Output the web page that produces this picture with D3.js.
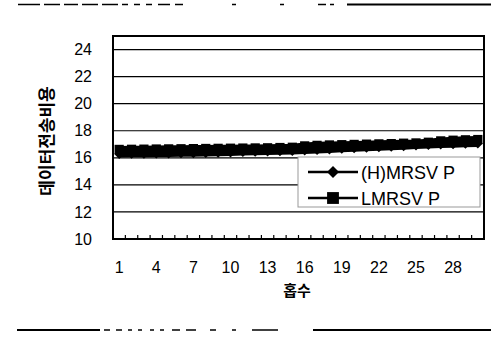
<!DOCTYPE html>
<html>
<head>
<meta charset="utf-8">
<script src="https://cdn.jsdelivr.net/npm/d3@7"></script>
<style>
  html, body { margin: 0; padding: 0; background: #fff; }
  svg { display: block; }
</style>
</head>
<body>
<svg id="chart" width="491" height="342"></svg>
<script>
// Hop counts 1..30
const hops = [1,2,3,4,5,6,7,8,9,10,11,12,13,14,15,16,17,18,19,20,21,22,23,24,25,26,27,28,29,30];

// Data transmission cost per hop count
const hmrsvp = [16.28,16.29,16.30,16.31,16.32,16.33,16.34,16.36,16.38,16.40,16.42,16.44,16.46,16.48,16.50,
                16.54,16.58,16.62,16.66,16.70,16.74,16.78,16.82,16.86,16.90,16.94,16.98,17.01,17.04,17.06];
const lmrsvp = [16.62,16.63,16.64,16.65,16.66,16.67,16.68,16.69,16.70,16.71,16.72,16.73,16.74,16.76,16.78,
                16.88,16.92,16.95,16.97,16.99,17.01,17.03,17.05,17.08,17.10,17.15,17.25,17.30,17.33,17.35];

const seriesNames = ["(H)MRSV P", "LMRSV P"];
const yTicks = [10,12,14,16,18,20,22,24];
const xTickLabels = [1,4,7,10,13,16,19,22,25,28];
const xTitle = "홉수";
const yTitle = "데이터전송비용";

const svg = d3.select("#chart");
const plotL = 113, plotR = 484, plotT = 36, plotB = 239;

const x = d3.scaleBand().domain(hops).range([plotL, plotR]);
const y = d3.scaleLinear().domain([10, 25]).range([plotB, plotT]);
const cx = h => x(h) + x.bandwidth() / 2;

// Page rules above and below the figure
const rule = (y0, segs) => segs.forEach(([a, b, w]) =>
  svg.append("line").attr("x1", a).attr("x2", b).attr("y1", y0).attr("y2", y0)
     .attr("stroke", "#000").attr("stroke-width", w || 1.5));
rule(4.5, [[18,40],[44,60],[64,78],[82,98],[102,118],[122,128],[134,140],[146,152],[158,170],[175,183],[232,236],[280,284],[318,326],[330,334],[347,491,2]]);
rule(330, [[17,100,2],[104,110],[116,122],[128,132],[138,142],[150,154],[160,164],[172,180],[186,196],[210,216],[232,236],[252,278],[313,491,2]]);

// Plot background
svg.append("rect").attr("x", plotL).attr("y", plotT).attr("width", plotR - plotL).attr("height", plotB - plotT)
   .attr("fill", "#fff");

// Horizontal gridlines
svg.append("g").selectAll("line").data(yTicks.filter(t => t > 10)).join("line")
   .attr("x1", plotL).attr("x2", plotR)
   .attr("y1", d => y(d)).attr("y2", d => y(d))
   .attr("stroke", "#000").attr("stroke-width", 1.2);

// Category tick marks along the bottom edge
const xAxis = d3.axisBottom(x).tickValues(hops).tickSize(-4).tickFormat("");
const gx = svg.append("g").attr("transform", `translate(0,${plotB})`).call(xAxis);
gx.select(".domain").remove();
gx.selectAll(".tick line").attr("transform", `translate(${-x.bandwidth() / 2},0)`).attr("stroke", "#000").attr("stroke-width", 1.2);

// Y-axis labels
const yAxis = d3.axisLeft(y).tickValues(yTicks).tickSize(0).tickPadding(21);
const gy = svg.append("g").attr("transform", `translate(${plotL},0)`).call(yAxis);
gy.select(".domain").remove();
gy.selectAll("text").attr("font-family", "Liberation Sans, Arial, sans-serif")
  .attr("font-size", 16).attr("fill", "#000");

// X-axis labels
svg.append("g").selectAll("text").data(xTickLabels).join("text")
   .attr("x", d => cx(d)).attr("y", 273)
   .attr("text-anchor", "middle")
   .attr("font-family", "Liberation Sans, Arial, sans-serif")
   .attr("font-size", 16).attr("fill", "#000")
   .text(d => d);

// Marker shapes: diamond is a square turned 45 degrees
const markers = [
  { type: d3.symbolSquare, rot: 45 },
  { type: d3.symbolSquare, rot: 0 }
];

// Series lines and markers (dense markers merge into a solid band)
const line = d3.line().x((d, i) => cx(hops[i])).y(d => y(d));
const drawSeries = (vals, mk, size) => {
  const g = svg.append("g");
  g.append("path").datum(vals).attr("d", line).attr("fill", "none").attr("stroke", "#000").attr("stroke-width", 7);
  const sym = d3.symbol().type(mk.type).size(size);
  g.selectAll("path.m").data(vals).join("path").attr("class", "m")
   .attr("transform", (d, i) => `translate(${cx(hops[i])},${y(d)}) rotate(${mk.rot})`)
   .attr("d", sym).attr("fill", "#000");
};
drawSeries(hmrsvp, markers[0], 50);
drawSeries(lmrsvp, markers[1], 85);

// Plot border
svg.append("rect").attr("x", plotL).attr("y", plotT).attr("width", plotR - plotL).attr("height", plotB - plotT)
   .attr("fill", "none").attr("stroke", "#000").attr("stroke-width", 2);

// Legend
const lg = svg.append("g");
lg.append("rect").attr("x", 298).attr("y", 157).attr("width", 182).attr("height", 50)
  .attr("fill", "#fff").attr("stroke", "#999").attr("stroke-width", 1);
seriesNames.forEach((name, i) => {
  const ly = 172 + i * 26;
  lg.append("line").attr("x1", 308).attr("x2", 358).attr("y1", ly).attr("y2", ly)
    .attr("stroke", "#000").attr("stroke-width", 2.5);
  lg.append("path").attr("transform", `translate(333,${ly}) rotate(${markers[i].rot})`)
    .attr("d", d3.symbol().type(markers[i].type).size(i ? 140 : 72)()).attr("fill", "#000");
  lg.append("text").attr("x", 361).attr("y", ly + 6.5)
    .attr("font-family", "Liberation Sans, Arial, sans-serif").attr("font-size", 18)
    .attr("fill", "#000").text(name);
});

// Axis titles
svg.append("text").attr("x", 297).attr("y", 296).attr("text-anchor", "middle")
   .attr("font-family", "Noto Sans CJK KR, sans-serif").attr("font-size", 15).attr("font-weight", "bold")
   .text(xTitle);
svg.append("text").attr("transform", "translate(53,141) rotate(-90)").attr("text-anchor", "middle")
   .attr("font-family", "Noto Sans CJK KR, sans-serif").attr("font-size", 17).attr("font-weight", "bold")
   .text(yTitle);
</script>
</body>
</html>
